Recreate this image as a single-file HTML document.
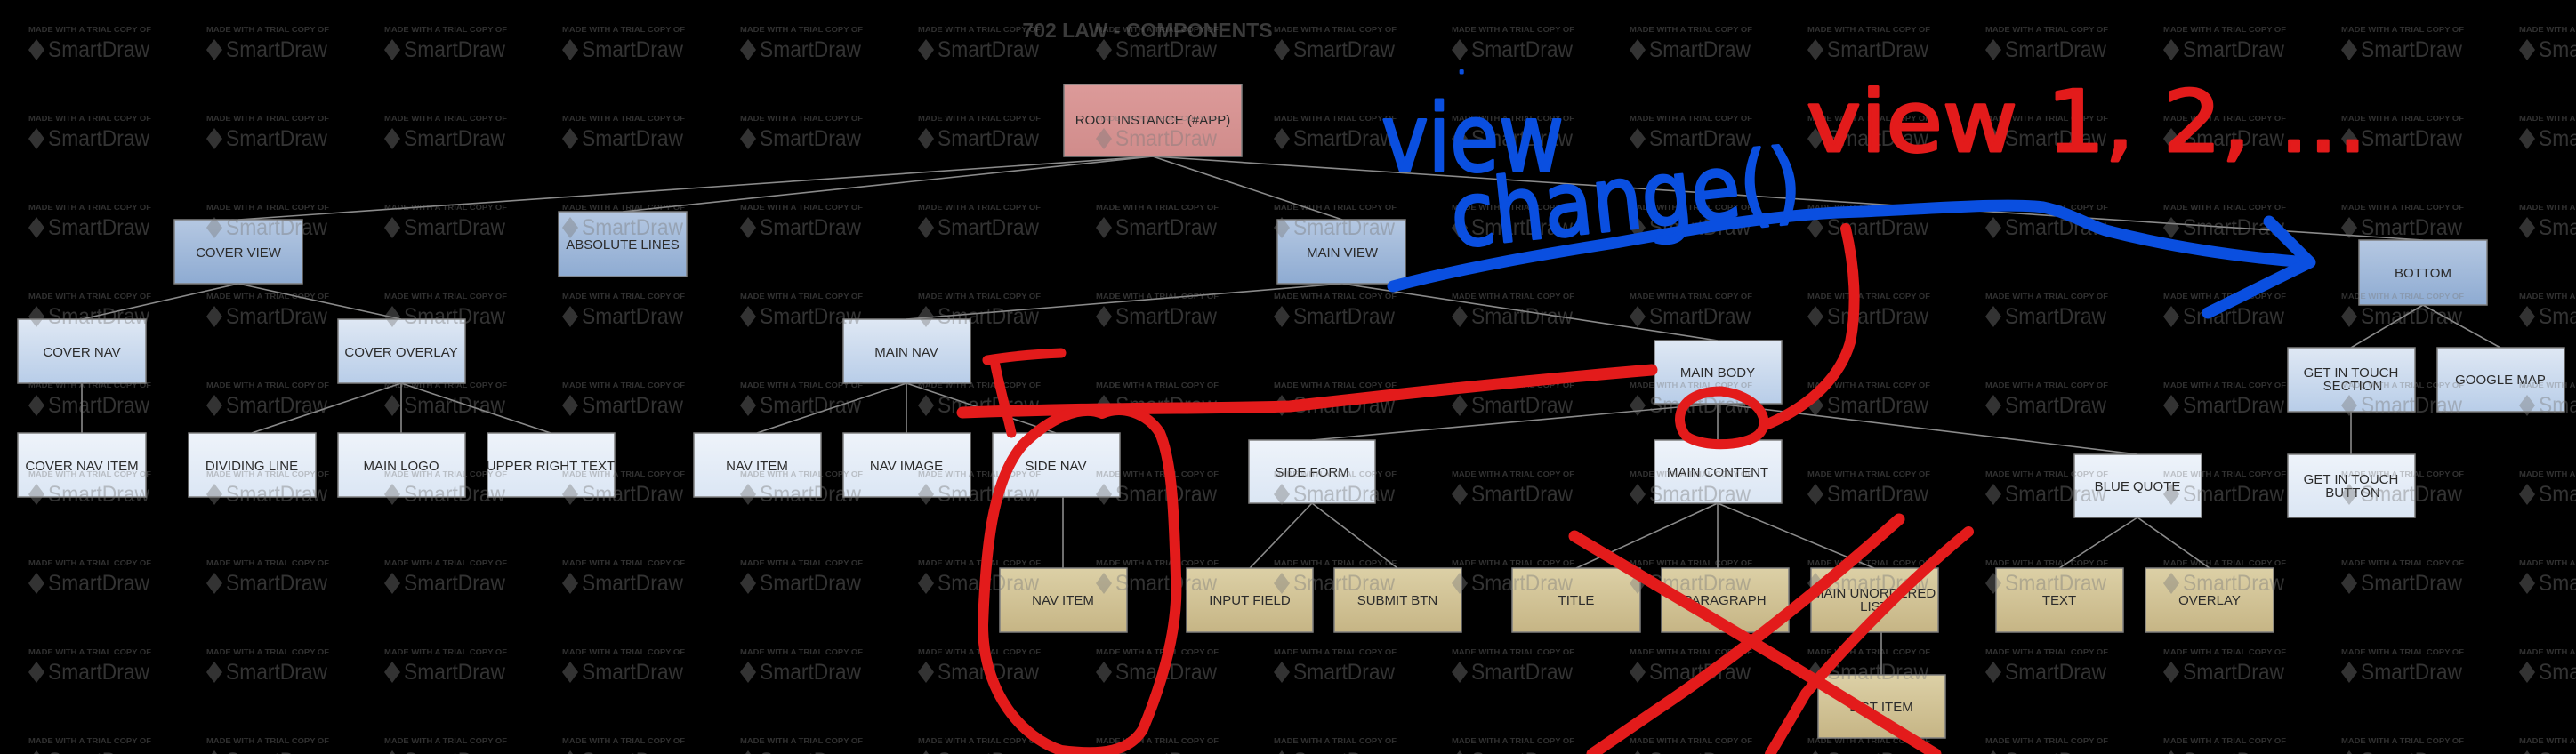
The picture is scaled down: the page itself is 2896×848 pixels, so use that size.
<!DOCTYPE html>
<html><head><meta charset="utf-8"><style>
html,body{margin:0;padding:0;background:#000;width:2896px;height:848px;overflow:hidden}
svg{display:block}
.b{stroke:#7f7f7f;stroke-width:1.5}
.lbl{font-family:"Liberation Sans Narrow","Liberation Sans",sans-serif;font-size:15px;fill:#2b2b2b;text-anchor:middle}
.c{stroke:#8a8a8a;stroke-width:1.6;fill:none}
.wm1{font-family:"Liberation Sans Narrow","Liberation Sans",sans-serif;font-weight:bold;font-size:8px;fill:#7a7a7a;fill-opacity:.4}
.wm2{font-family:"Liberation Sans Narrow","Liberation Sans",sans-serif;font-size:25px;fill:#7a7a7a;fill-opacity:.42}
.hb{font-family:"DejaVu Sans",sans-serif;fill:#0a4fe0;stroke:#0a4fe0;stroke-width:3;stroke-linejoin:round}
.hr{font-family:"DejaVu Sans",sans-serif;fill:#e31b1b;stroke:#e31b1b;stroke-width:3;stroke-linejoin:round}
</style></head><body>
<svg width="2896" height="848" viewBox="0 0 2896 848" xmlns="http://www.w3.org/2000/svg">
<defs>
<linearGradient id="pink" x1="0" y1="0" x2="0" y2="1"><stop offset="0" stop-color="#dc9a99"/><stop offset="1" stop-color="#d08c8b"/></linearGradient>
<linearGradient id="mid" x1="0" y1="0" x2="0" y2="1"><stop offset="0" stop-color="#b5c8e2"/><stop offset="1" stop-color="#8eabd2"/></linearGradient>
<linearGradient id="lt" x1="0" y1="0" x2="0" y2="1"><stop offset="0" stop-color="#dfe8f4"/><stop offset="1" stop-color="#b8cde8"/></linearGradient>
<linearGradient id="lst" x1="0" y1="0" x2="0" y2="1"><stop offset="0" stop-color="#eef3fa"/><stop offset="1" stop-color="#dbe6f4"/></linearGradient>
<linearGradient id="tan" x1="0" y1="0" x2="0" y2="1"><stop offset="0" stop-color="#dcd0a6"/><stop offset="1" stop-color="#c6b585"/></linearGradient>
</defs>
<text x="1290" y="42" text-anchor="middle" font-family="Liberation Sans,sans-serif" font-weight="bold" font-size="23" fill="#3a3a3a">702 LAW - COMPONENTS</text>
<g class="c">
<line x1="1296" y1="176" x2="268" y2="247"/><line x1="1296" y1="176" x2="700" y2="238"/>
<line x1="1296" y1="176" x2="1509" y2="247"/><line x1="1296" y1="176" x2="2724" y2="270"/>
<line x1="268" y1="319" x2="92" y2="359"/><line x1="268" y1="319" x2="451" y2="359"/>
<line x1="92" y1="431" x2="92" y2="487"/>
<line x1="451" y1="431" x2="283" y2="487"/><line x1="451" y1="431" x2="451" y2="487"/><line x1="451" y1="431" x2="619" y2="487"/>
<line x1="1509" y1="319" x2="1019" y2="359"/><line x1="1509" y1="319" x2="1931" y2="383"/>
<line x1="1019" y1="431" x2="851" y2="487"/><line x1="1019" y1="431" x2="1019" y2="487"/><line x1="1019" y1="431" x2="1187" y2="487"/>
<line x1="1195" y1="559" x2="1195" y2="639"/>
<line x1="1931" y1="454" x2="1475" y2="495"/><line x1="1931" y1="454" x2="1931" y2="495"/><line x1="1931" y1="454" x2="2403" y2="511"/>
<line x1="1475" y1="566" x2="1405" y2="639"/><line x1="1475" y1="566" x2="1571" y2="639"/>
<line x1="1931" y1="566" x2="1772" y2="639"/><line x1="1931" y1="566" x2="1931" y2="639"/><line x1="1931" y1="566" x2="2107" y2="639"/>
<line x1="2115" y1="711" x2="2115" y2="759"/>
<line x1="2403" y1="582" x2="2315" y2="639"/><line x1="2403" y1="582" x2="2484" y2="639"/>
<line x1="2724" y1="343" x2="2643" y2="391"/><line x1="2724" y1="343" x2="2811" y2="391"/>
<line x1="2643" y1="463" x2="2643" y2="511"/>
</g>
<g class="b">
<rect x="1196" y="95" width="200" height="81" fill="url(#pink)"/>
<rect x="196" y="247" width="144" height="72" fill="url(#mid)"/>
<rect x="628" y="238" width="144" height="73" fill="url(#mid)"/>
<rect x="1436" y="247" width="144" height="72" fill="url(#mid)"/>
<rect x="2652" y="270" width="144" height="73" fill="url(#mid)"/>
<rect x="20" y="359" width="144" height="72" fill="url(#lt)"/>
<rect x="380" y="359" width="143" height="72" fill="url(#lt)"/>
<rect x="948" y="359" width="143" height="72" fill="url(#lt)"/>
<rect x="1860" y="383" width="143" height="71" fill="url(#lt)"/>
<rect x="2572" y="391" width="143" height="72" fill="url(#lt)"/>
<rect x="2740" y="391" width="143" height="72" fill="url(#lt)"/>
<rect x="20" y="487" width="144" height="72" fill="url(#lst)"/>
<rect x="212" y="487" width="143" height="72" fill="url(#lst)"/>
<rect x="380" y="487" width="143" height="72" fill="url(#lst)"/>
<rect x="548" y="487" width="143" height="72" fill="url(#lst)"/>
<rect x="780" y="487" width="143" height="72" fill="url(#lst)"/>
<rect x="948" y="487" width="143" height="72" fill="url(#lst)"/>
<rect x="1116" y="487" width="143" height="72" fill="url(#lst)"/>
<rect x="1404" y="495" width="142" height="71" fill="url(#lst)"/>
<rect x="1860" y="495" width="143" height="71" fill="url(#lst)"/>
<rect x="2332" y="511" width="143" height="71" fill="url(#lst)"/>
<rect x="2572" y="511" width="143" height="71" fill="url(#lst)"/>
<rect x="1124" y="639" width="143" height="72" fill="url(#tan)"/>
<rect x="1334" y="639" width="142" height="72" fill="url(#tan)"/>
<rect x="1500" y="639" width="143" height="72" fill="url(#tan)"/>
<rect x="1700" y="639" width="144" height="72" fill="url(#tan)"/>
<rect x="1868" y="639" width="143" height="72" fill="url(#tan)"/>
<rect x="2036" y="639" width="143" height="72" fill="url(#tan)"/>
<rect x="2244" y="639" width="143" height="72" fill="url(#tan)"/>
<rect x="2412" y="639" width="144" height="72" fill="url(#tan)"/>
<rect x="2044" y="759" width="143" height="71" fill="url(#tan)"/>
</g>
<g class="lbl">
<text x="1296" y="140">ROOT INSTANCE (#APP)</text>
<text x="268" y="289">COVER VIEW</text>
<text x="700" y="280">ABSOLUTE LINES</text>
<text x="1509" y="289">MAIN VIEW</text>
<text x="2724" y="312">BOTTOM</text>
<text x="92" y="401">COVER NAV</text>
<text x="451" y="401">COVER OVERLAY</text>
<text x="1019" y="401">MAIN NAV</text>
<text x="1931" y="424">MAIN BODY</text>
<text x="2643" y="424">GET IN TOUCH</text><text x="2645" y="439">SECTION</text>
<text x="2811" y="432">GOOGLE MAP</text>
<text x="92" y="529">COVER NAV ITEM</text>
<text x="283" y="529">DIVIDING LINE</text>
<text x="451" y="529">MAIN LOGO</text>
<text x="619" y="529">UPPER RIGHT TEXT</text>
<text x="851" y="529">NAV ITEM</text>
<text x="1019" y="529">NAV IMAGE</text>
<text x="1187" y="529">SIDE NAV</text>
<text x="1475" y="536">SIDE FORM</text>
<text x="1931" y="536">MAIN CONTENT</text>
<text x="2403" y="552">BLUE QUOTE</text>
<text x="2643" y="544">GET IN TOUCH</text><text x="2645" y="559">BUTTON</text>
<text x="1195" y="680">NAV ITEM</text>
<text x="1405" y="680">INPUT FIELD</text>
<text x="1571" y="680">SUBMIT BTN</text>
<text x="1772" y="680">TITLE</text>
<text x="1939" y="680">PARAGRAPH</text>
<text x="2107" y="672">MAIN UNORDERED</text><text x="2107" y="687">LIST</text>
<text x="2315" y="680">TEXT</text>
<text x="2484" y="680">OVERLAY</text>
<text x="2115" y="800">LIST ITEM</text>
</g>
<g id="wmg"></g>
<g fill="none" stroke-linecap="round" stroke-linejoin="round">
<path d="M1566 322 C1650 300 1740 285 1816 273 C1900 258 2000 240 2093 238 C2180 234 2260 228 2297 233 C2330 240 2350 255 2371 260 C2450 280 2530 290 2593 295" stroke="#0a4fe0" stroke-width="13"/>
<path d="M2551 249 L2597 295 L2482 352" stroke="#0a4fe0" stroke-width="13"/>
<path d="M2075 257 C2085 300 2088 345 2080 385 C2070 420 2040 455 1985 478" stroke="#e31b1b" stroke-width="12"/>
<path d="M1935 440 C1890 440 1880 470 1895 490 C1915 505 1970 502 1980 485 C1990 470 1975 445 1935 440 Z" stroke="#e31b1b" stroke-width="11"/>
<path d="M1857 416 C1750 425 1600 440 1450 457 C1350 460 1250 458 1082 464" stroke="#e31b1b" stroke-width="13"/>
<path d="M1110 405 C1140 400 1170 398 1193 397" stroke="#e31b1b" stroke-width="11"/>
<path d="M1119 411 C1125 440 1132 465 1137 487" stroke="#e31b1b" stroke-width="11"/>
<path d="M1239 465 C1215 455 1180 470 1150 500 C1115 540 1108 620 1105 703 C1105 780 1150 830 1193 844 C1240 850 1270 845 1285 820 C1310 760 1325 700 1322 649 C1320 580 1318 520 1304 487 C1290 465 1262 455 1239 465" stroke="#e31b1b" stroke-width="12"/>
<path d="M1770 603 L2000 740 L2176 848" stroke="#e31b1b" stroke-width="13"/>
<path d="M2135 584 C2050 660 1950 740 1860 800 L1790 848" stroke="#e31b1b" stroke-width="13"/>
<path d="M2213 598 C2150 650 2080 720 2030 780 L1990 848" stroke="#e31b1b" stroke-width="12"/>
</g>
<text class="hb" x="1553" y="192" font-size="105" textLength="205" lengthAdjust="spacingAndGlyphs">view</text>
<text class="hb" x="1635" y="278" font-size="100" textLength="395" lengthAdjust="spacingAndGlyphs" transform="rotate(-6 1635 278)">change()</text>
<text class="hb" x="1640" y="82" font-size="20">.</text>
<text class="hr" x="2031" y="170" font-size="95" textLength="630" lengthAdjust="spacingAndGlyphs">view 1, 2, ...</text>
</svg>
<script>
(function(){
var ns="http://www.w3.org/2000/svg",g=document.getElementById("wmg");
for(var j=0;j<9;j++){for(var i=0;i<15;i++){
var x=32+i*200,y=36+j*100;
var t=document.createElementNS(ns,"text");t.setAttribute("class","wm1");t.setAttribute("x",x);t.setAttribute("y",y);
t.setAttribute("textLength","138");t.setAttribute("lengthAdjust","spacingAndGlyphs");t.textContent="MADE WITH A TRIAL COPY OF";g.appendChild(t);
var p=document.createElementNS(ns,"path");p.setAttribute("d","M"+(x+9)+" "+(y+8)+"l9 12l-9 12l-9-12z");p.setAttribute("fill","#7a7a7a");p.setAttribute("fill-opacity",".42");g.appendChild(p);
var s=document.createElementNS(ns,"text");s.setAttribute("class","wm2");s.setAttribute("x",x+22);s.setAttribute("y",y+28);
s.setAttribute("textLength","114");s.setAttribute("lengthAdjust","spacingAndGlyphs");s.textContent="SmartDraw";g.appendChild(s);
}}
})();
</script>
</body></html>
